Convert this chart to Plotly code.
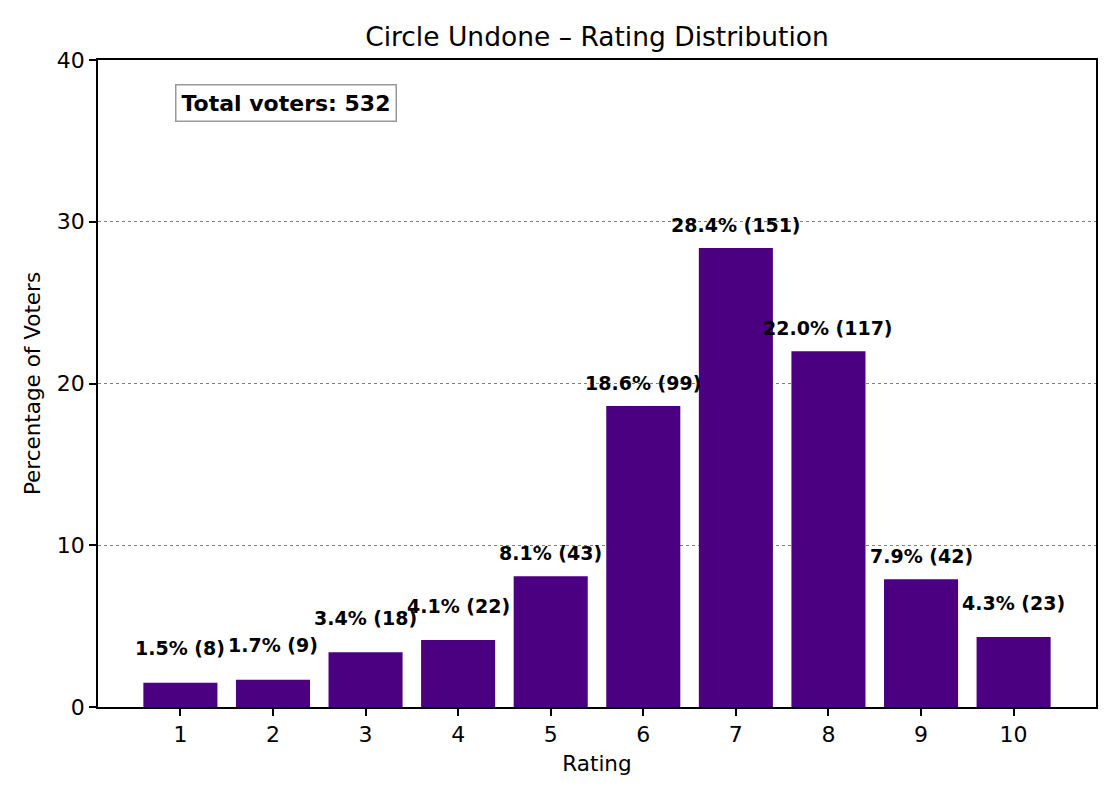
import plotly.graph_objects as go

ratings = [1, 2, 3, 4, 5, 6, 7, 8, 9, 10]
counts = [8, 9, 18, 22, 43, 99, 151, 117, 42, 23]
tick_labels = [str(r) for r in ratings]

title_text = 'Circle Undone – Rating Distribution'
total = sum(counts)
# share of voters per rating
percentages = [c / total * 100 for c in counts]

font = 'DejaVu Sans'
bar_color = '#4B0082'

# page body adds 8px around the plot, so the figure is a bit smaller than the window
W, H = 1104, 784

fig = go.Figure()
fig.add_trace(go.Bar(
    x=ratings,
    y=percentages,
    width=0.8,
    marker=dict(color=bar_color, line=dict(width=0)),
    hoverinfo='none',
))

# value labels above each bar (small bars get a bit more room)
for r, p, c in zip(ratings, percentages, counts):
    offset = 1.7 if p < 5 else 1.0
    fig.add_annotation(
        x=r, y=p + offset, xref='x', yref='y',
        text='<b>{:.1f}% ({})</b>'.format(p, c),
        showarrow=False, yanchor='bottom', yshift=-6,
        font=dict(family=font, size=19, color='black'),
    )

fig.add_annotation(
    x=0.188, y=0.933, xref='paper', yref='paper',
    text='<b>Total voters: {}</b>'.format(total),
    showarrow=False, xanchor='center', yanchor='middle',
    font=dict(family=font, size=22, color='black'),
    bgcolor='white', bordercolor='#999999', borderwidth=1.5, borderpad=5,
)

fig.update_layout(
    width=W, height=H,
    paper_bgcolor='white', plot_bgcolor='white',
    margin=dict(l=90, r=16, t=52, b=85),
    font=dict(family=font, size=22, color='black'),
    title=dict(text=title_text, x=0.5, xref='paper', xanchor='center', y=1 - 29 / H, yanchor='middle',
               yref='container', font=dict(family=font, size=26.5, color='black')),
    showlegend=False,
    xaxis=dict(
        range=[0.11, 10.89], tickmode='array', tickvals=ratings, ticktext=tick_labels,
        ticks='outside', ticklen=7, tickwidth=1.5, tickcolor='black',
        showline=True, linecolor='black', linewidth=1.5, mirror=True,
        showgrid=False, zeroline=False,
        tickfont=dict(size=22),
        title=dict(text='Rating', standoff=10, font=dict(size=21.5)),
    ),
    yaxis=dict(
        range=[0, 40], tickmode='array', tickvals=[0, 10, 20, 30, 40],
        ticks='outside', ticklen=7, tickwidth=1.5, tickcolor='black',
        showline=True, linecolor='black', linewidth=1.5, mirror=True,
        showgrid=True, gridcolor='#808080', griddash='dot', gridwidth=1,
        zeroline=False,
        tickfont=dict(size=22),
        title=dict(text='Percentage of Voters', standoff=10, font=dict(size=21.5)),
    ),
)

fig.write_html('out.html')
